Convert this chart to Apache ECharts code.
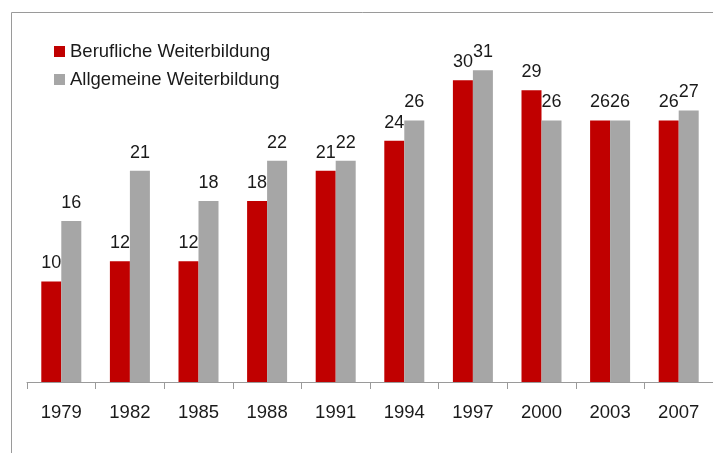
<!DOCTYPE html>
<html>
<head>
<meta charset="utf-8">
<script src="https://cdn.jsdelivr.net/npm/echarts@6/dist/echarts.min.js"></script>
<style>
  html, body { margin: 0; padding: 0; background: #fff; }
  #chart { width: 713px; height: 453px; }
</style>
</head>
<body>
<div id="chart"></div>
<script>
// Jahre der Erhebung
const years = ['1979', '1982', '1985', '1988', '1991', '1994', '1997', '2000', '2003', '2007']
// Teilnahmequoten in %
const beruflich = [10, 12, 12, 18, 21, 24, 30, 29, 26, 26]
const allgemein = [16, 21, 18, 22, 22, 26, 31, 26, 26, 27]

const fontFamily = '"Liberation Sans", Arial, sans-serif'
const chart = echarts.init(document.getElementById('chart'))

const labelStyle = {
  show: true,
  position: 'top',
  distance: 9,
  fontSize: 18,
  fontFamily: fontFamily,
  color: '#1a1a1a'
}

chart.setOption({
  animation: false,
  textStyle: { fontFamily: fontFamily },
  // Rahmen oben und links
  graphic: [
    {
      type: 'rect',
      silent: true,
      shape: { x: 11.5, y: 12.5, width: 900, height: 900 },
      style: { fill: 'none', stroke: '#9a9a9a', lineWidth: 1 }
    }
  ],
  legend: {
    orient: 'vertical',
    left: 54,
    top: 42,
    padding: 0,
    itemWidth: 11,
    itemHeight: 11,
    itemGap: 9,
    icon: 'rect',
    textStyle: { fontSize: 18.5, lineHeight: 18, color: '#1a1a1a' },
    data: ['Berufliche Weiterbildung', 'Allgemeine Weiterbildung']
  },
  grid: {
    left: 27,
    top: 30,
    width: 686,
    height: 352
  },
  xAxis: {
    type: 'category',
    data: years,
    axisLine: { show: true, lineStyle: { color: '#9a9a9a', width: 1 } },
    axisTick: { show: true, length: 7, lineStyle: { color: '#9a9a9a', width: 1 } },
    axisLabel: {
      fontSize: 18.5,
      color: '#1a1a1a',
      margin: 21
    }
  },
  yAxis: {
    type: 'value',
    min: 0,
    max: 35,
    show: false,
    splitLine: { show: false }
  },
  series: [
    {
      name: 'Berufliche Weiterbildung',
      type: 'bar',
      data: beruflich,
      barWidth: 20,
      barGap: '0%',
      itemStyle: { color: '#c00000' },
      label: labelStyle
    },
    {
      name: 'Allgemeine Weiterbildung',
      type: 'bar',
      data: allgemein,
      barWidth: 20,
      barGap: '0%',
      itemStyle: { color: '#a6a6a6' },
      label: labelStyle
    }
  ]
})
</script>
</body>
</html>
